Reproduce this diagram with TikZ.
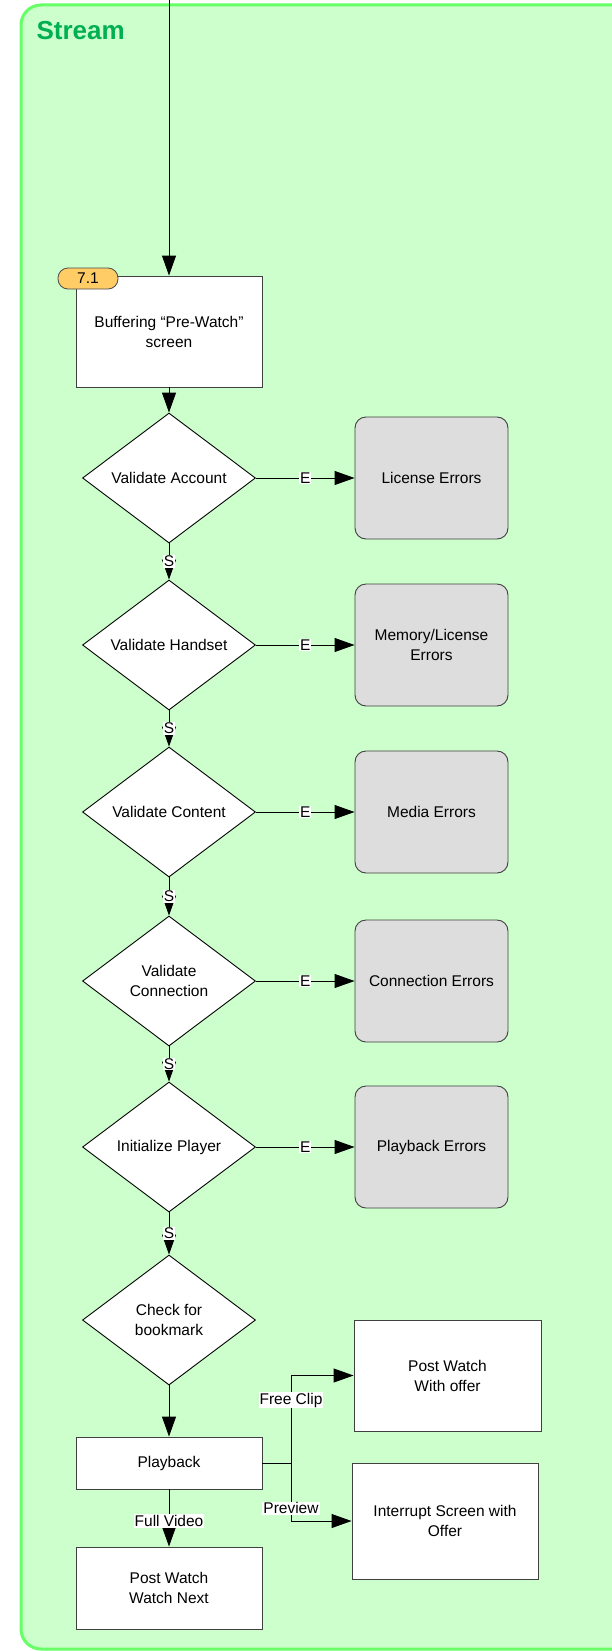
\documentclass[tikz,border=0pt]{standalone}
\usepackage{fontspec}
\setmainfont{Liberation Sans}
\usetikzlibrary{positioning, calc, shapes.geometric, arrows.meta}
\definecolor{laneGreen}{RGB}{204,255,204}
\definecolor{laneEdge}{RGB}{102,255,102}
\definecolor{laneTitle}{RGB}{0,176,80}
\definecolor{errGray}{RGB}{221,221,221}
\definecolor{tagOrange}{RGB}{255,204,102}
\tikzstyle{Arrow} = [
%Create custom arrow style:
black, line width = 0.9pt,
-{Triangle[length = 20pt, width = 14pt]}
]

\begin{document}
\begin{tikzpicture}[x = 1pt, y = -1pt,
			every node/.style = {font = \fontsize{15.5}{20}\selectfont},
			screen/.style = {rectangle, draw = black!75, line width = 0.9pt, fill = white, text centered, align = center, minimum width = 186pt},
			decision/.style = {diamond, draw = black, line width = 0.9pt, fill = white, aspect = 1.33, inner sep = 0pt, align = center, minimum width = 173pt, minimum height = 130pt},
			errbox/.style = {rectangle, rounded corners = 11pt, draw = black!75, line width = 0.9pt, fill = errGray, align = center, minimum width = 153pt, minimum height = 122pt},
			tag/.style = {rectangle, rounded corners = 10pt, draw = black!70, line width = 0.8pt, fill = tagOrange, minimum width = 60pt, minimum height = 21pt, inner sep = 0pt},
			lbl/.style = {fill = white, inner sep = 1pt},
		]

		\useasboundingbox (0,0) rectangle (612,1651);
		\draw[draw = laneEdge, line width = 3pt, fill = laneGreen, rounded corners = 20pt] (21,5) rectangle (650,1649);
		\node[anchor = base west, text = laneTitle, font = \fontsize{26}{30}\selectfont\bfseries] (title) at (33,40) {Stream};

		\coordinate (in) at (169,-2);
		\node[screen, minimum height = 111pt] (PW) at (169,331.5) {Buffering “Pre-Watch”\\screen};
		\node[tag] (num) at (88,278.5) {7.1};

		\node[decision] (VA) at (169,478) {Validate Account};
		\node[decision] (VH) at (169,645) {Validate Handset};
		\node[decision] (VC) at (169,812) {Validate Content};
		\node[decision] (VN) at (169,981) {Validate\\Connection};
		\node[decision] (IP) at (169,1147) {Initialize Player};
		\node[decision] (CB) at (169,1320) {Check for\\bookmark};

		\node[errbox] (LE) at (431.5,478) {License Errors};
		\node[errbox] (ME) at (431.5,645) {Memory/License\\Errors};
		\node[errbox] (DE) at (431.5,812) {Media Errors};
		\node[errbox] (CE) at (431.5,981) {Connection Errors};
		\node[errbox] (PE) at (431.5,1147) {Playback Errors};

		\node[screen, minimum height = 52pt] (PB) at (169,1463) {Playback};
		\node[screen, minimum height = 82pt] (PWN) at (169,1588) {Post Watch\\Watch Next};
		\node[screen, minimum width = 187pt, minimum height = 111pt] (PWO) at (447.5,1375.5) {Post Watch\\With offer};
		\node[screen, minimum height = 116pt] (IS) at (445,1521) {Interrupt Screen with\\Offer};
		\coordinate (J) at (291,1463);

		\draw[Arrow] (in) -- (PW);
		\draw[Arrow] (PW) -- (VA);
		\draw[Arrow] (VA) -- node[lbl] {S} (VH);
		\draw[Arrow] (VH) -- node[lbl] {S} (VC);
		\draw[Arrow] (VC) -- node[lbl] {S} (VN);
		\draw[Arrow] (VN) -- node[lbl] {S} (IP);
		\draw[Arrow] (IP) -- node[lbl] {S} (CB);
		\draw[Arrow] (CB) -- (PB);

		\draw[Arrow] (VA) -- node[lbl, pos = 0.5] {E} (LE);
		\draw[Arrow] (VH) -- node[lbl, pos = 0.5] {E} (ME);
		\draw[Arrow] (VC) -- node[lbl, pos = 0.5] {E} (DE);
		\draw[Arrow] (VN) -- node[lbl, pos = 0.5] {E} (CE);
		\draw[Arrow] (IP) -- node[lbl, pos = 0.5] {E} (PE);

		\draw[black, line width = 0.9pt] (PB.east) -- (J);
		\draw[Arrow] (J) |- node[lbl, pos = 0.36] {Free Clip} (PWO.west);
		\draw[Arrow] (J) |- node[lbl, pos = 0.39] {Preview} (IS.west);
		\draw[Arrow] (PB) -- node[lbl, pos = 0.55] {Full Video} (PWN);
	\end{tikzpicture}
\end{document}
